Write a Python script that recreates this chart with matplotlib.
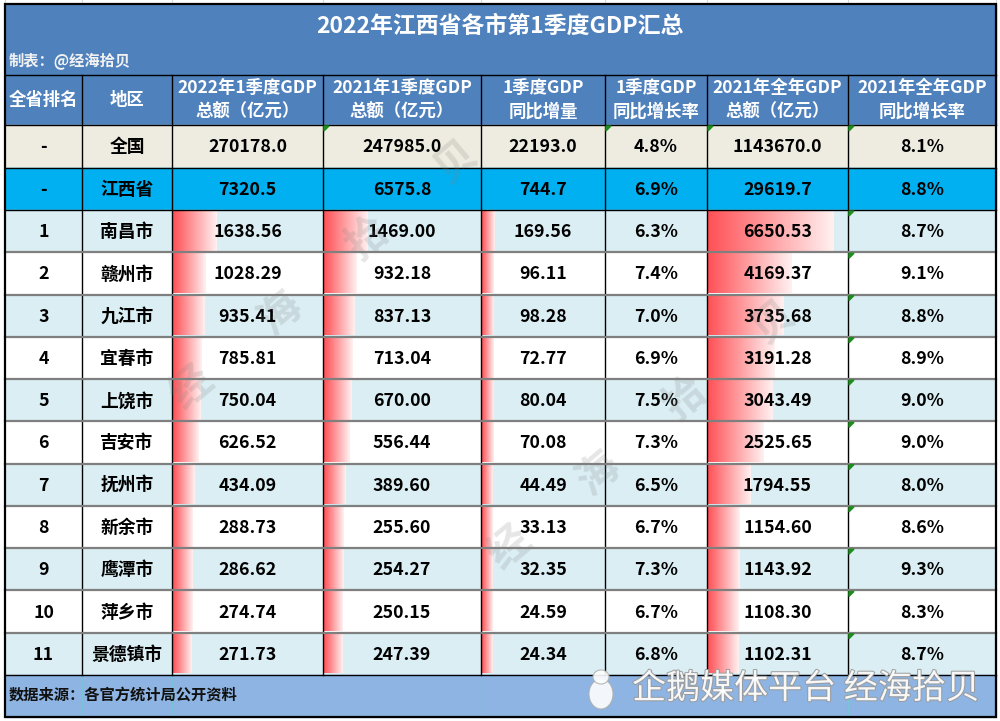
import numpy as np
import matplotlib.pyplot as plt
import matplotlib.patheffects as pe
from matplotlib.patches import Rectangle, Polygon, Ellipse
from matplotlib.colors import LinearSegmentedColormap

plt.rcParams['font.family'] = ['Noto Sans CJK SC', 'DejaVu Sans']

# ---- data ----
title = '2022年江西省各市第1季度GDP汇总'
maker = '制表：@经海拾贝'
source = '数据来源：各官方统计局公开资料'
headers = [['全省排名'], ['地区'], ['2022年1季度GDP', '总额（亿元）'], ['2021年1季度GDP', '总额（亿元）'],
           ['1季度GDP', '同比增量'], ['1季度GDP', '同比增长率'], ['2021年全年GDP', '总额（亿元）'],
           ['2021年全年GDP', '同比增长率']]

ranks = ['-', '-', '1', '2', '3', '4', '5', '6', '7', '8', '9', '10', '11']
regions = ['全国', '江西省', '南昌市', '赣州市', '九江市', '宜春市', '上饶市', '吉安市', '抚州市',
           '新余市', '鹰潭市', '萍乡市', '景德镇市']
gdp_2022q1 = [270178.0, 7320.5, 1638.56, 1028.29, 935.41, 785.81, 750.04, 626.52, 434.09,
              288.73, 286.62, 274.74, 271.73]
gdp_2021q1 = [247985.0, 6575.8, 1469.00, 932.18, 837.13, 713.04, 670.00, 556.44, 389.60,
              255.60, 254.27, 250.15, 247.39]
q1_increase = [22193.0, 744.7, 169.56, 96.11, 98.28, 72.77, 80.04, 70.08, 44.49,
               33.13, 32.35, 24.59, 24.34]
q1_growth = [4.8, 6.9, 6.3, 7.4, 7.0, 6.9, 7.5, 7.3, 6.5, 6.7, 7.3, 6.7, 6.8]
gdp_2021 = [1143670.0, 29619.7, 6650.53, 4169.37, 3735.68, 3191.28, 3043.49, 2525.65, 1794.55,
            1154.60, 1143.92, 1108.30, 1102.31]
growth_2021 = [8.1, 8.8, 8.7, 9.1, 8.8, 8.9, 9.0, 9.0, 8.0, 8.6, 9.3, 8.3, 8.7]

# ---- layout (pixels) ----
col_x = [5, 82, 172, 323, 481, 605, 707, 848, 996]
y_top, y_head, y_body = 4, 75, 125
city_h = (675 - 210) / 11
row_y = [125, 168] + [210 + i * city_h for i in range(12)]
y_foot_bot = 717

# data bar mapping per column: (min px, px per unit)
bar_map = {2: (14, 0.0183), 3: (14, 0.0199), 4: (10.5, 0.009), 6: (12, 0.01712)}

blue = '#4F81BD'
bar_cmap = LinearSegmentedColormap.from_list('bar', ['#FF5257', '#FFF0F0'])

fig = plt.figure(figsize=(10, 7.21), dpi=100)
ax = fig.add_axes([0, 0, 1, 1])

# faint excel grid above the table
for x in col_x:
    ax.plot([x, x], [0, 4], color='#D9D9D9', lw=0.8)

# title band
ax.add_patch(Rectangle((col_x[0], y_top), col_x[-1] - col_x[0], y_body - y_top, color=blue, zorder=1))
ax.text(500, 26, title, color='white', fontsize=16.5, fontweight='bold', ha='center', va='center', zorder=5)
ax.text(9, 61, maker, color='#F2F2F2', fontsize=11, fontweight='bold', ha='left', va='center', zorder=5)

# header text
for j, lines in enumerate(headers):
    xc = (col_x[j] + col_x[j + 1]) / 2
    if len(lines) == 1:
        ax.text(xc, 100, lines[0], color='white', fontsize=12.5, fontweight='bold',
                ha='center', va='center', zorder=5)
    else:
        ax.text(xc, 88, lines[0], color='white', fontsize=12.5, fontweight='bold',
                ha='center', va='center', zorder=5)
        ax.text(xc, 112, lines[1], color='white', fontsize=12.5, fontweight='bold',
                ha='center', va='center', zorder=5)

# body rows
columns = [gdp_2022q1, gdp_2021q1, q1_increase, q1_growth, gdp_2021, growth_2021]
for i in range(len(regions)):
    y0, y1 = row_y[i], row_y[i + 1]
    if i == 0:
        bg = '#EEECE1'
    elif i == 1:
        bg = '#00B0F0'
    else:
        bg = '#DAEEF3' if (i - 2) % 2 == 0 else 'white'
    ax.add_patch(Rectangle((col_x[0], y0), col_x[-1] - col_x[0], y1 - y0, color=bg, zorder=1))
    yc = (y0 + y1) / 2
    cells = [ranks[i], regions[i]]
    for k, col in enumerate(columns):
        v = col[i]
        if k in (3, 5):
            cells.append(f'{v:.1f}%')
        elif i < 2:
            cells.append(f'{v:.1f}')
        else:
            cells.append(f'{v:.2f}')
    for j, s in enumerate(cells):
        xc = (col_x[j] + col_x[j + 1]) / 2
        ax.text(xc, yc + 1, s, color='black', fontsize=12.8, fontweight='bold',
                ha='center', va='center', zorder=5)
        if i >= 2 and j in bar_map:
            a, b = bar_map[j]
            v = columns[j - 2][i]
            w = a + b * v
            grad = np.linspace(0, 1, 64).reshape(1, -1)
            ax.imshow(grad, cmap=bar_cmap, aspect='auto', interpolation='bilinear',
                      extent=(col_x[j] + 1, col_x[j] + 1 + w, y1 - 1.5, y0 + 1.5), zorder=2)

# footer
ax.add_patch(Rectangle((col_x[0], 675), col_x[-1] - col_x[0], y_foot_bot - 675, color='#8DB4E2', zorder=1))
ax.text(9, 695, source, color='#111111', fontsize=11, fontweight='bold', ha='left', va='center', zorder=5)
for x in col_x[1:-1]:
    ax.plot([x, x], [675, y_foot_bot], color='#79C4D9', lw=0.8, zorder=3)

# grid lines
for x in col_x[1:-1]:
    ax.plot([x, x], [y_head, 675], color='black', lw=1, zorder=4)
for y in [y_head, 125, 168, 210, 675]:
    ax.plot([col_x[0], col_x[-1]], [y, y], color='black', lw=1, zorder=4)
for y in row_y[3:-1]:
    ax.plot([col_x[0], col_x[-1]], [y, y], color='#7F7F7F', lw=1.6, zorder=4)
ax.add_patch(Rectangle((col_x[0], y_top), col_x[-1] - col_x[0], y_foot_bot - y_top,
                       fill=False, edgecolor='black', lw=1.6, zorder=6))

# green error markers
marks = [(col_x[3], 125), (col_x[5], 125), (col_x[6], 125), (col_x[7], 125)] + \
        [(col_x[7], y) for y in row_y[2:-1]]
for (x, y) in marks:
    ax.add_patch(Polygon([(x + 1, y + 1), (x + 6, y + 1), (x + 1, y + 6)], color='#1E8C1E', zorder=6))

# diagonal watermarks
wm_chars = '经海拾贝'
for sx, sy in [(192, 388), (510, 548)]:
    for n, ch in enumerate(wm_chars):
        ax.text(sx + n * 88, sy - n * 75, ch, color='#808080', alpha=0.2, fontsize=30,
                fontweight='bold', rotation=40, ha='center', va='center', zorder=7)

# bottom-right platform watermark
ax.add_patch(Ellipse((601, 694), 24, 30, facecolor='white', edgecolor='#B0B0B0', lw=0.8, alpha=0.9, zorder=7))
ax.add_patch(Ellipse((601, 677), 16, 14, facecolor='white', edgecolor='#B0B0B0', lw=0.8, alpha=0.9, zorder=7))
ax.text(632, 689, '企鹅媒体平台 经海拾贝', color='white', alpha=0.9, fontsize=24.5, ha='left', va='center',
        zorder=8, path_effects=[pe.withStroke(linewidth=1.5, foreground='#9A9A9A')])

ax.set_xlim(0, 1000)
ax.set_ylim(721, 0)
ax.axis('off')
fig.savefig('out.png', dpi=100)
